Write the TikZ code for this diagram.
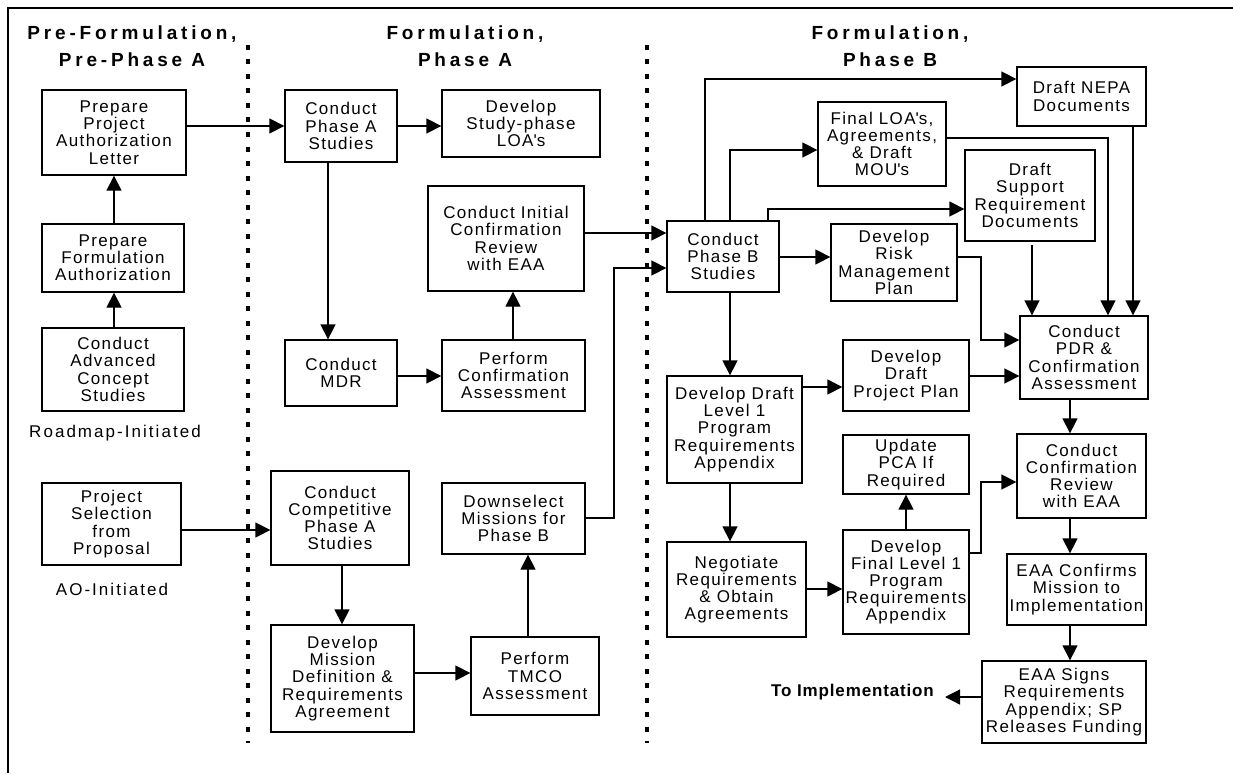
\documentclass[tikz,border=0pt]{standalone}
\usepackage{fontspec}
\usetikzlibrary{arrows.meta}
\newfontfamily\boxfont{Liberation Sans}[LetterSpace=8]
\newfontfamily\lblfont{Liberation Sans}[LetterSpace=12]
\newfontfamily\headfont{Liberation Sans}[LetterSpace=20]
\newfontfamily\goalfont{Liberation Sans}[LetterSpace=5]
\newcommand{\ap}{\textquotesingle}

\tikzset{
  box/.style={draw, line width=1.3pt, inner sep=0pt, align=center,
    font=\boxfont\fontsize{17}{17.2}\selectfont},
  head/.style={align=center, inner sep=0pt,
    font=\headfont\bfseries\fontsize{19}{27}\selectfont},
  lbl/.style={inner sep=0pt, font=\lblfont\fontsize{17}{17}\selectfont},
  goal/.style={inner sep=0pt, font=\goalfont\bfseries\fontsize{17}{17}\selectfont},
  arr/.style={line width=1.3pt, -{Triangle[length=15pt,width=15pt]}},
  divider/.style={line width=4pt, dash pattern=on 5pt off 9.5pt},
  frame/.style={line width=2.5pt}
}

\begin{document}
\begin{tikzpicture}[x=1pt, y=-1pt]
\useasboundingbox (0,0) rectangle (1233,773);

% frame (top and left edges only)
\draw[frame] (1233,8) -- (8,8) -- (8,773);

% phase dividers
\draw[divider] (248,45) -- (248,743);
\draw[divider] (647,45) -- (647,743);

% column headings
\node[head] (h1) at (132,46.5) {Pre-Formulation,\\Pre-Phase A};
\node[head] (h2) at (465,46.5) {Formulation,\\Phase A};
\node[head] (h3) at (890,46.5) {Formulation,\\Phase B};

% Pre-Formulation column
\node[box, minimum width=144pt, minimum height=85pt] (ppal) at (114,132.5) {Prepare\\Project\\Authorization\\Letter};
\node[box, minimum width=142pt, minimum height=68pt] (pfa) at (113,258) {Prepare\\Formulation\\Authorization};
\node[box, minimum width=142pt, minimum height=83pt] (cacs) at (113,369.5) {Conduct\\Advanced\\Concept\\Studies};
\node[lbl] (road) at (115,433) {Roadmap-Initiated};
\node[box, minimum width=139pt, minimum height=82pt] (psp) at (111.5,524) {Project\\Selection\\from\\Proposal};
\node[lbl] (ao) at (112,589) {AO-Initiated};

% Phase A column
\node[box, minimum width=112pt, minimum height=72pt] (cpas) at (341,126) {Conduct\\Phase A\\Studies};
\node[box, minimum width=158pt, minimum height=67pt] (dsl) at (521,123.5) {Develop\\Study-phase\\LOA\ap s};
\node[box, minimum width=156pt, minimum height=105pt] (icr) at (506,238.5) {Conduct Initial\\Confirmation\\Review\\with EAA};
\node[box, minimum width=112pt, minimum height=66pt] (mdr) at (341,373) {Conduct\\MDR};
\node[box, minimum width=143pt, minimum height=71pt] (pca) at (513.5,375.5) {Perform\\Confirmation\\Assessment};
\node[box, minimum width=138pt, minimum height=94pt] (ccpa) at (340,518) {Conduct\\Competitive\\Phase A\\Studies};
\node[box, minimum width=143pt, minimum height=107pt] (dmd) at (342.5,678.5) {Develop\\Mission\\Definition \&\\Requirements\\Agreement};
\node[box, minimum width=143pt, minimum height=71pt] (dsm) at (513.5,518.5) {Downselect\\Missions for\\Phase B};
\node[box, minimum width=128pt, minimum height=78pt] (tmco) at (535,676) {Perform\\TMCO\\Assessment};

% Phase B column
\node[box, minimum width=129pt, minimum height=59pt] (nepa) at (1081.5,96.5) {Draft NEPA\\Documents};
\node[box, minimum width=128pt, minimum height=84pt] (flo) at (882,144) {Final LOA\ap s,\\Agreements,\\\& Draft\\MOU\ap s};
\node[box, minimum width=130pt, minimum height=91pt] (dsrd) at (1030,195.5) {Draft\\Support\\Requirement\\Documents};
\node[box, minimum width=112pt, minimum height=71pt] (cpbs) at (723,256.5) {Conduct\\Phase B\\Studies};
\node[box, minimum width=126pt, minimum height=77pt] (rmp) at (894,262.5) {Develop\\Risk\\Management\\Plan};
\node[box, minimum width=128pt, minimum height=83pt] (pdr) at (1084,357.5) {Conduct\\PDR \&\\Confirmation\\Assessment};
\node[box, minimum width=126pt, minimum height=71pt] (ddpp) at (906,375.5) {Develop\\Draft\\Project Plan};
\node[box, minimum width=135pt, minimum height=107pt] (ddl1) at (734.5,429.5) {Develop Draft\\Level 1\\Program\\Requirements\\Appendix};
\node[box, minimum width=126pt, minimum height=59pt] (upca) at (906,464.5) {Update\\PCA If\\Required};
\node[box, minimum width=129pt, minimum height=84pt] (ccr) at (1081.5,476) {Conduct\\Confirmation\\Review\\with EAA};
\node[box, minimum width=139pt, minimum height=95pt] (neg) at (736.5,589.5) {Negotiate\\Requirements\\\& Obtain\\Agreements};
\node[box, minimum width=126pt, minimum height=104pt] (dfl1) at (906,582) {Develop\\Final Level 1\\Program\\Requirements\\Appendix};
\node[box, minimum width=139pt, minimum height=71pt] (eaac) at (1076.5,589.5) {EAA Confirms\\Mission to\\Implementation};
\node[box, minimum width=164pt, minimum height=82pt] (eaas) at (1064,702) {EAA Signs\\Requirements\\Appendix; SP\\Releases Funding};
\node[goal, anchor=east] (impl) at (934,692) {To Implementation};
\coordinate (implend) at (945,697);

% Pre-Formulation flow
\draw[arr] (114,0 |- cacs.north) -- (114,0 |- pfa.south);
\draw[arr] (114,0 |- pfa.north) -- (114,0 |- ppal.south);
\draw[arr] (ppal.east |- cpas.west) -- (cpas.west);
\draw[arr] (psp.east |- 0,530) -- (ccpa.west |- 0,530);

% Phase A flow
\draw[arr] (cpas.east) -- (dsl.west |- cpas.east);
\draw[arr] (328,0 |- cpas.south) -- (328,0 |- mdr.north);
\draw[arr] (mdr.east |- 0,376) -- (pca.west |- 0,376);
\draw[arr] (513,0 |- pca.north) -- (513,0 |- icr.south);
\draw[arr] (icr.east |- 0,233) -- (cpbs.west |- 0,233);
\draw[arr] (342,0 |- ccpa.south) -- (342,0 |- dmd.north);
\draw[arr] (dmd.east |- 0,673) -- (tmco.west |- 0,673);
\draw[arr] (528,0 |- tmco.north) -- (528,0 |- dsm.south);
\draw[arr] (dsm.east |- 0,518) -| (614,268) -- (cpbs.west |- 0,268);

% Phase B flow
\draw[arr] (705,0 |- cpbs.north) |- (nepa.west |- 0,79);
\draw[arr] (730,0 |- cpbs.north) |- (flo.west |- 0,150);
\draw[arr] (768,0 |- cpbs.north) |- (dsrd.west |- 0,209);
\draw[arr] (cpbs.east |- 0,257) -- (rmp.west |- 0,257);
\draw[arr] (730,0 |- cpbs.south) -- (730,0 |- ddl1.north);
\draw[arr] (flo.east |- 0,138) -| (1108,0 |- pdr.north);
\draw[arr] (1133,0 |- nepa.south) -- (1133,0 |- pdr.north);
\draw[arr] (1032,245) -- (1032,0 |- pdr.north);
\draw[arr] (rmp.east |- 0,257) -| (981,340) -- (pdr.west |- 0,340);
\draw[arr] (ddl1.east |- 0,387) -- (ddpp.west |- 0,387);
\draw[arr] (ddpp.east |- 0,376) -- (pdr.west |- 0,376);
\draw[arr] (730,0 |- ddl1.south) -- (730,0 |- neg.north);
\draw[arr] (neg.east |- 0,589) -- (dfl1.west |- 0,589);
\draw[arr] (906,0 |- dfl1.north) -- (906,0 |- upca.south);
\draw[arr] (dfl1.east |- 0,553) -| (981,482) -- (ccr.west |- 0,482);
\draw[arr] (1070,0 |- pdr.south) -- (1070,0 |- ccr.north);
\draw[arr] (1070,0 |- ccr.south) -- (1070,0 |- eaac.north);
\draw[arr] (1070,0 |- eaac.south) -- (1070,0 |- eaas.north);
\draw[arr] (eaas.west |- implend) -- (implend);
\end{tikzpicture}
\end{document}
